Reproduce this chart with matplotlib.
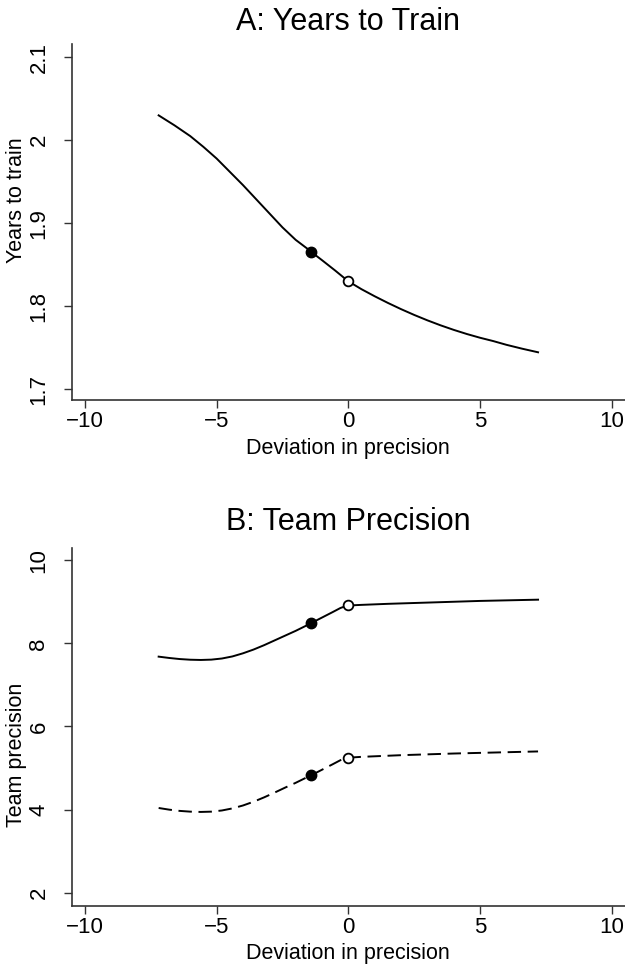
import matplotlib
matplotlib.use("Agg")
import matplotlib.pyplot as plt

plt.rcParams['font.family'] = ['Liberation Sans', 'DejaVu Sans']

# Panel A: years to train against deviation in precision
dev_a = [-7.2, -6.6, -6.0, -5.5, -5.0, -4.5, -4.0, -3.5, -3.0, -2.5, -2.0,
         -1.5, -1.39, -1.0, -0.5, 0.0, 0.5, 1.0, 1.5, 2.0, 2.5, 3.0, 3.5,
         4.0, 4.5, 5.0, 5.5, 6.0, 6.6, 7.2]
years = [2.030, 2.018, 2.005, 1.992, 1.978, 1.962, 1.946, 1.929, 1.912, 1.895,
         1.880, 1.868, 1.865, 1.8555, 1.843, 1.830, 1.8205, 1.812, 1.804,
         1.7965, 1.7895, 1.783, 1.777, 1.7715, 1.7665, 1.762, 1.758, 1.7535,
         1.7488, 1.7445]

# Panel B: team precision, two series
dev_b = [-7.2, -6.8, -6.4, -6.0, -5.6, -5.2, -4.8, -4.4, -4.0, -3.6, -3.2,
         -2.8, -2.4, -2.0, -1.6, -1.4, -1.0, -0.6, -0.3, -0.1, 0.0, 0.5, 1.5,
         3.0, 5.0, 7.2]
prec_solid = [7.68, 7.648, 7.622, 7.606, 7.600, 7.608, 7.635, 7.685, 7.76,
              7.85, 7.955, 8.07, 8.185, 8.30, 8.425, 8.49, 8.62, 8.75, 8.85,
              8.895, 8.91, 8.925, 8.95, 8.98, 9.02, 9.05]

dev_c = [-7.2, -6.8, -6.4, -6.0, -5.6, -5.2, -4.8, -4.4, -4.0, -3.6, -3.2,
         -2.8, -2.4, -2.0, -1.6, -1.4, -1.0, -0.6, -0.3, -0.1, 0.0, 0.5, 2.0,
         4.0, 7.2]
prec_dash = [4.04, 4.00, 3.97, 3.952, 3.945, 3.952, 3.98, 4.03, 4.10, 4.19,
             4.295, 4.41, 4.53, 4.645, 4.77, 4.83, 4.96, 5.09, 5.19, 5.235,
             5.25, 5.27, 5.31, 5.35, 5.40]

# highlighted points: filled at the chosen deviation, hollow at zero
pt_x = [-1.4, 0.0]
pt_years = [1.865, 1.830]
pt_solid = [8.49, 8.91]
pt_dash = [4.83, 5.25]

W, H = 625, 965
fig = plt.figure(figsize=(W / 100, H / 100), dpi=100)
LEFT = 71.7


def make_axes(left, top, right, bottom):
    return fig.add_axes([left / W, 1 - bottom / H, (right - left) / W, (bottom - top) / H])


def style(ax, yticks, ylim, ylabel, label_y):
    ax.set_xlim(-10.5, 10.5)
    ax.set_ylim(*ylim)
    ax.set_xticks([-10, -5, 0, 5, 10])
    ax.set_xticklabels(['\u221210', '\u22125', '0', '5', '10'])
    ax.set_yticks(yticks)
    ax.set_yticklabels([f'{t:g}' for t in yticks])
    for s in ['top', 'right']:
        ax.spines[s].set_visible(False)
    for s in ['left', 'bottom']:
        ax.spines[s].set_color('#333333')
        ax.spines[s].set_linewidth(1.2)
    ax.tick_params(axis='both', direction='out', length=6, width=1.0,
                   color='#333333', labelsize=16)
    ax.tick_params(axis='x', pad=2)
    ax.tick_params(axis='y', pad=10, labelrotation=90)
    for lab in ax.get_yticklabels():
        lab.set_va('center')
    ax.set_xlabel('Deviation in precision', fontsize=15.5, labelpad=4)
    ax.set_ylabel(ylabel, fontsize=15.5, va='center')
    ax.yaxis.set_label_coords((17 - LEFT) / (W - LEFT), label_y)


def points(ax, ys):
    ax.plot(pt_x[0], ys[0], 'o', color='black', ms=7.5, zorder=3)
    ax.plot(pt_x[1], ys[1], 'o', mfc='white', mec='black', mew=1.3, ms=7, zorder=3)


ax1 = make_axes(LEFT, 44, W, 400)
ax1.plot(dev_a, years, color='black', lw=1.4)
points(ax1, pt_years)
style(ax1, [1.7, 1.8, 1.9, 2.0, 2.1], (1.687, 2.116), 'Years to train', 0.56)

ax2 = make_axes(LEFT, 547.7, W, 905.7)
ax2.plot(dev_b, prec_solid, color='black', lw=1.4)
ax2.plot(dev_c, prec_dash, color='black', lw=1.4, dashes=(6.9, 3.4))
points(ax2, pt_solid)
points(ax2, pt_dash)
style(ax2, [2, 4, 6, 8, 10], (1.69, 10.30), 'Team precision', 0.42)

fig.text(348.4 / W, 1 - 21.5 / H, 'A: Years to Train', fontsize=22,
         ha='center', va='center')
fig.text(348.4 / W, 1 - 522.5 / H, 'B: Team Precision', fontsize=22,
         ha='center', va='center')

fig.savefig('out.png', dpi=100, facecolor='white')
